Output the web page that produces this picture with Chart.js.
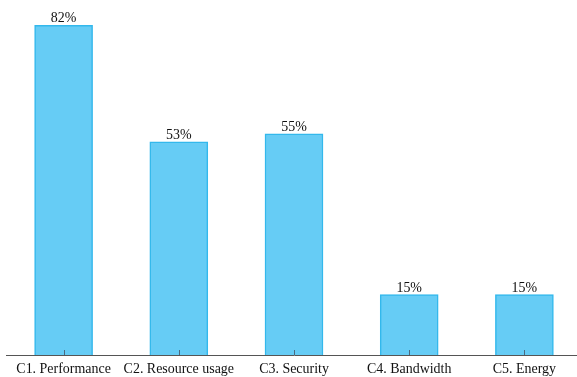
<!DOCTYPE html>
<html>
<head>
<meta charset="utf-8">
<script src="https://cdn.jsdelivr.net/npm/chart.js@4/dist/chart.umd.min.js"></script>
<style>
  html, body { margin: 0; padding: 0; background: #fff; overflow: hidden; }
  #wrap { width: 582px; height: 377px; position: relative; }
</style>
</head>
<body>
<div id="wrap"><canvas id="c"></canvas></div>
<script>
// Criteria and the share of studies addressing each one (%)
const categories = ['C1. Performance', 'C2. Resource usage', 'C3. Security', 'C4. Bandwidth', 'C5. Energy'];
const shares = [82, 53, 55, 15, 15];

const FONT = '"Liberation Serif", "Times New Roman", serif';

// Draw text slightly condensed horizontally
function drawSqueezed(ctx, text, x, y, squeeze) {
  ctx.save();
  ctx.translate(x, y);
  ctx.scale(squeeze, 1);
  ctx.fillText(text, 0, 0);
  ctx.restore();
}

// Percentage labels above each bar
const valueLabels = {
  id: 'valueLabels',
  afterDatasetsDraw(chart) {
    const ctx = chart.ctx;
    const meta = chart.getDatasetMeta(0);
    ctx.save();
    ctx.font = '15.5px ' + FONT;
    ctx.fillStyle = '#111';
    ctx.textAlign = 'center';
    ctx.textBaseline = 'alphabetic';
    meta.data.forEach((bar, i) => {
      drawSqueezed(ctx, shares[i] + '%', bar.x, bar.y - 3, 0.9);
    });
    ctx.restore();
  }
};

// Category names and short inward tick marks on the category axis
const categoryAxis = {
  id: 'categoryAxis',
  afterDatasetsDraw(chart) {
    const ctx = chart.ctx;
    const x = chart.scales.x;
    ctx.save();
    ctx.strokeStyle = '#4a6a80';
    ctx.lineWidth = 1;
    x.ticks.forEach((t, i) => {
      const px = Math.round(x.getPixelForTick(i)) + 0.5;
      ctx.beginPath();
      ctx.moveTo(px, x.top);
      ctx.lineTo(px, x.top - 5);
      ctx.stroke();
    });
    ctx.font = '15.5px ' + FONT;
    ctx.fillStyle = '#111';
    ctx.textAlign = 'center';
    ctx.textBaseline = 'alphabetic';
    x.ticks.forEach((t, i) => {
      drawSqueezed(ctx, categories[i], x.getPixelForTick(i), x.top + 18, 0.9);
    });
    ctx.restore();
  }
};

new Chart(document.getElementById('c'), {
  type: 'bar',
  data: {
    labels: categories,
    datasets: [{
      data: shares,
      backgroundColor: '#66ccf5',
      borderColor: '#33b8ec',
      borderWidth: 1.5,
      barThickness: 58
    }]
  },
  options: {
    responsive: true,
    maintainAspectRatio: false,
    animation: false,
    layout: { padding: { left: 6, right: 0, top: 0, bottom: 0 } },
    plugins: { legend: { display: false }, tooltip: { enabled: false } },
    scales: {
      x: {
        grid: { display: false, drawTicks: false },
        border: { display: true, color: '#555', width: 1 },
        ticks: { display: false },
        afterFit(scale) { scale.height = 22; }
      },
      y: {
        display: false,
        min: 0,
        max: 88.3
      }
    }
  },
  plugins: [valueLabels, categoryAxis]
});
</script>
</body>
</html>
